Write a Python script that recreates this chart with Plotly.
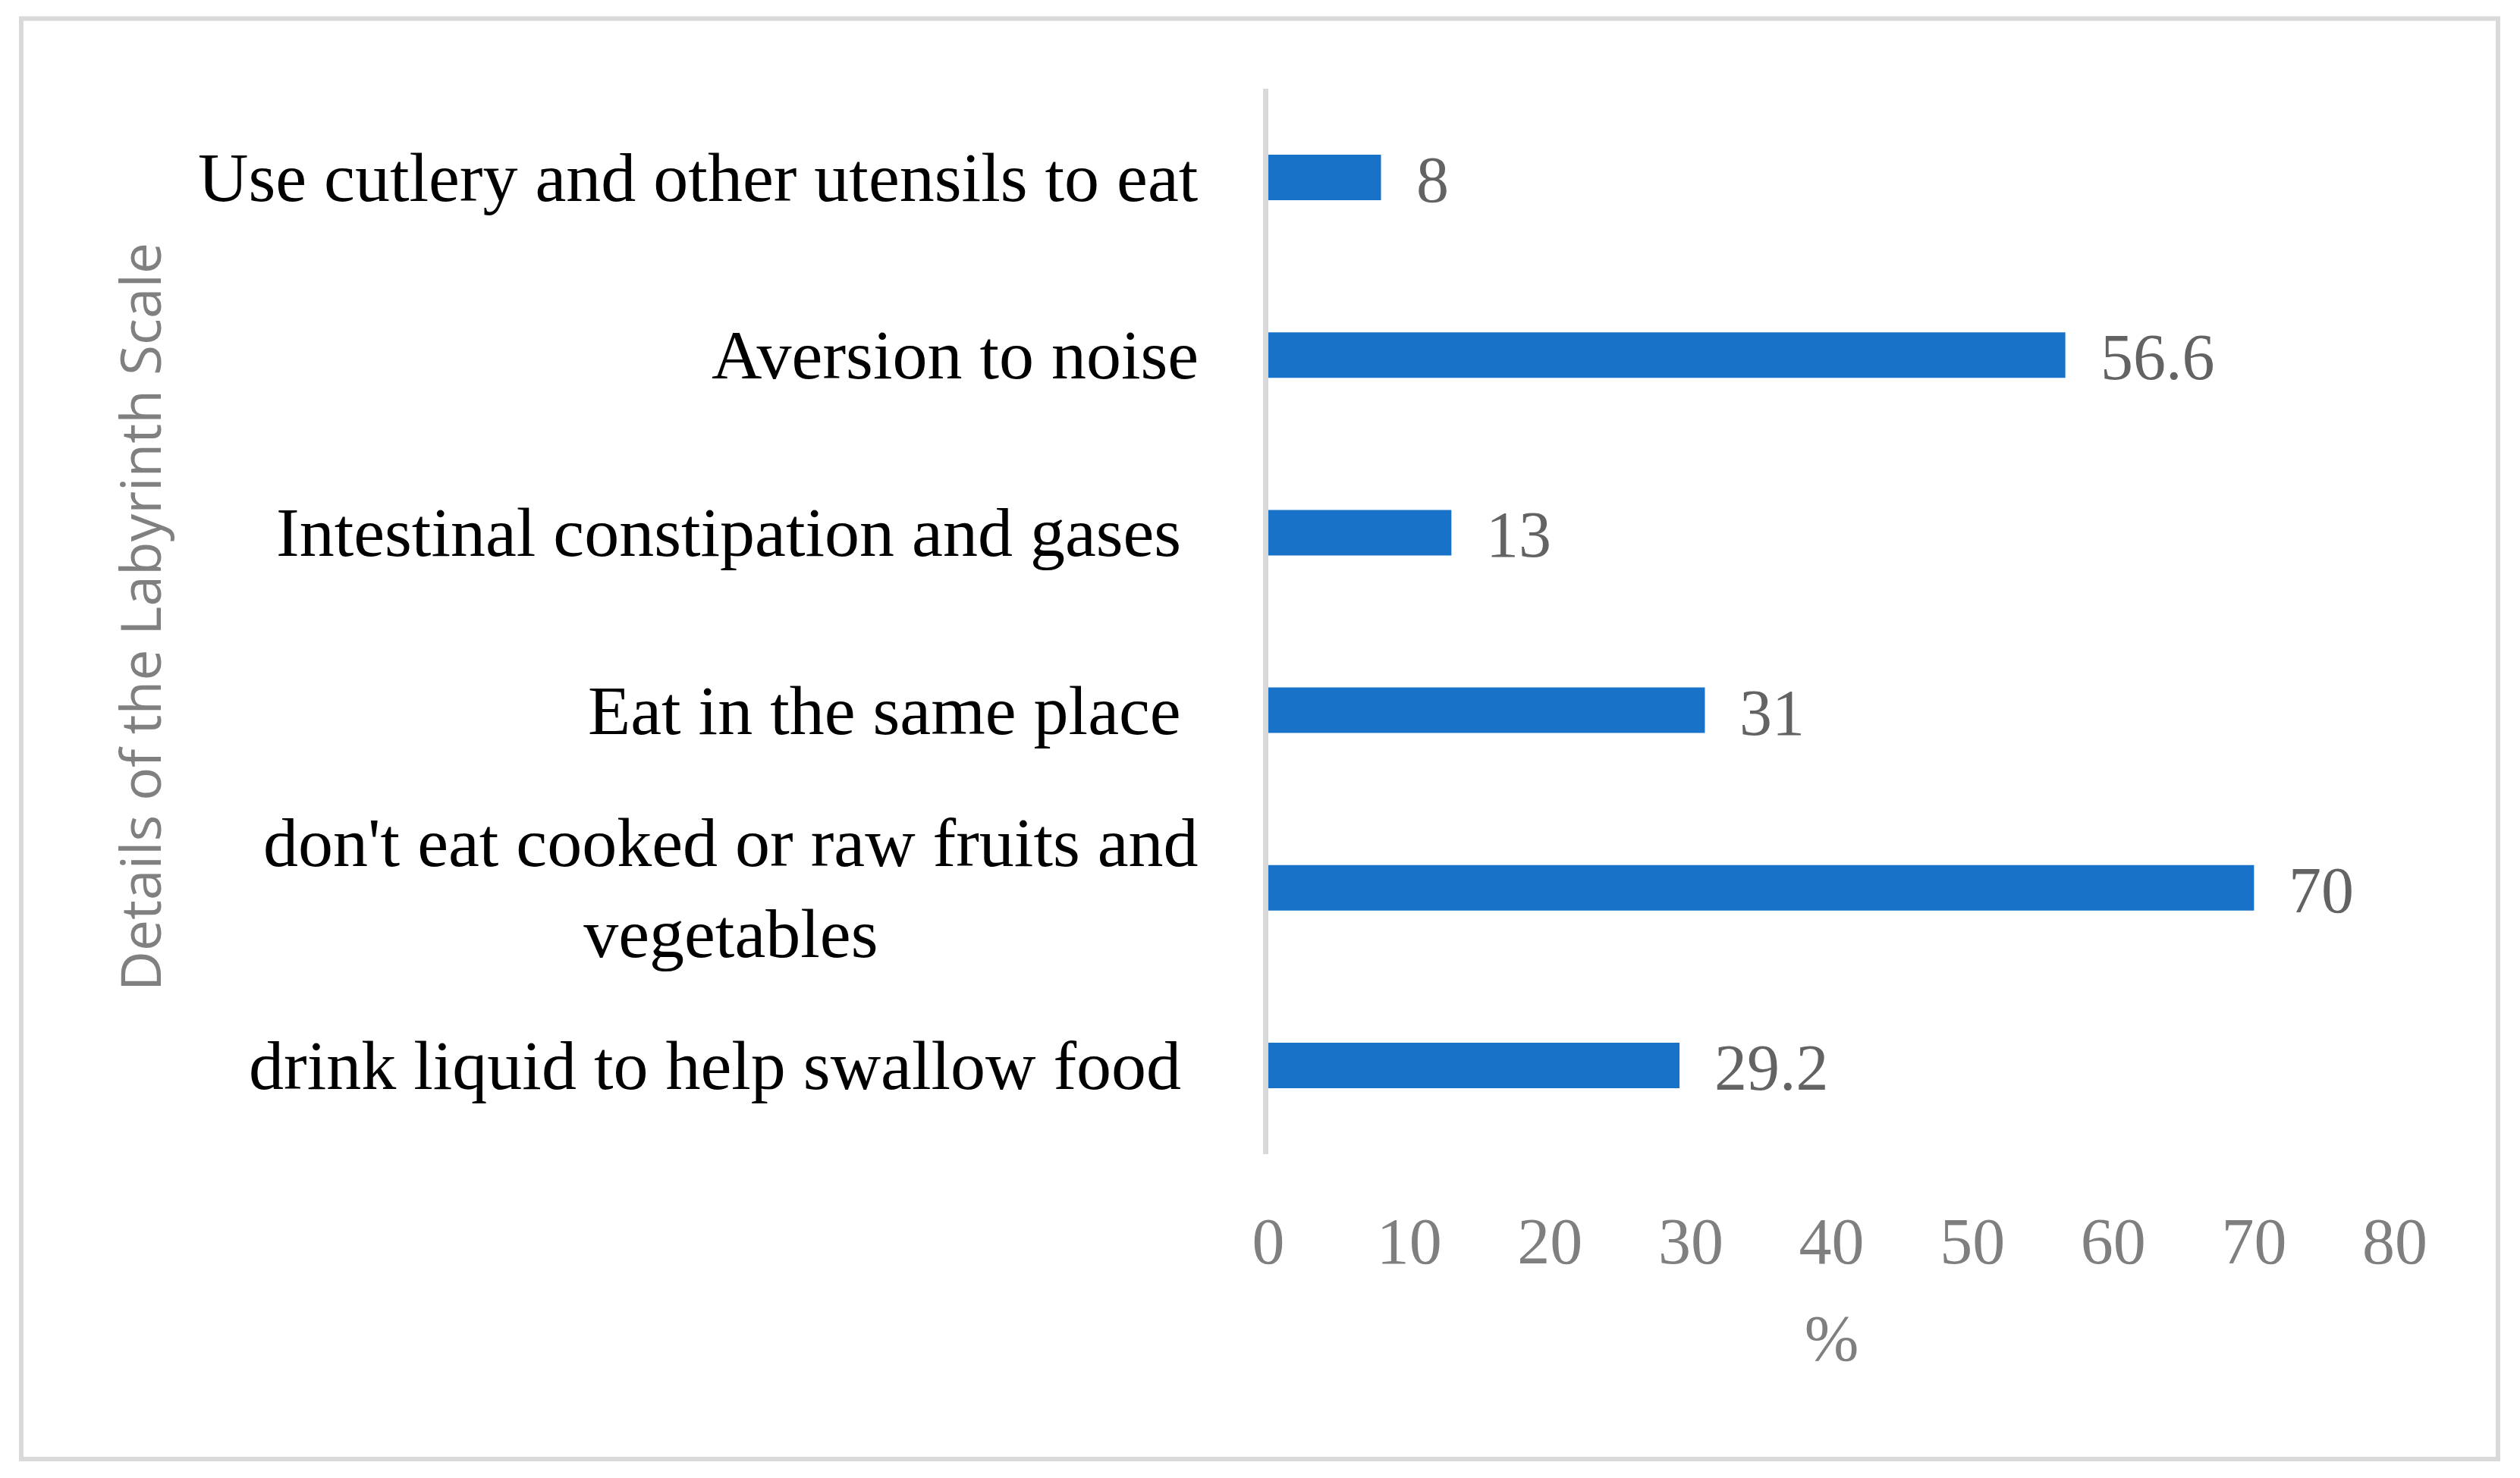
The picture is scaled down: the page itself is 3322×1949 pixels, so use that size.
import plotly.graph_objects as go

categories = [
    "Use cutlery and other utensils to eat",
    "Aversion to noise",
    "Intestinal constipation and gases ",
    "Eat in the same place ",
    "don't eat cooked or raw fruits and<br>vegetables",
    "drink liquid to help swallow food ",
]
values = [8, 56.6, 13, 31, 70, 29.2]
value_labels = ["8", "56.6", "13", "31", "70", "29.2"]
x_ticks = [0, 10, 20, 30, 40, 50, 60, 70, 80]
x_title = "%"
y_title = "Details of the Labyrinth Scale"

# page has an 8px body margin; figure coordinates = page coordinates - 8
W, H = 3306, 1933
L, R, T, B = 1664, 157, 109, 419
pw = W - L - R
ph = H - T - B

SERIF = "Liberation Serif"
BAR_COLOR = "#1873C8"

fig = go.Figure()
fig.add_trace(go.Bar(
    x=values,
    y=list(range(len(categories))),
    orientation="h",
    width=0.256,
    marker=dict(color=BAR_COLOR, line=dict(width=0)),
    hoverinfo="skip",
))

annotations = []
for i, (cat, v, lab) in enumerate(zip(categories, values, value_labels)):
    txt = cat
    n_trail = len(txt) - len(txt.rstrip(" "))
    txt = txt.rstrip(" ") + "\u00a0" * n_trail
    annotations.append(dict(
        x=0, y=i, xref="x", yref="y", text=txt, showarrow=False,
        xanchor="right", yanchor="middle", align="center", xshift=-90,
        font=dict(family=SERIF, size=92, color="#000000"),
    ))
    annotations.append(dict(
        x=v, y=i, xref="x", yref="y", text=lab, showarrow=False,
        xanchor="left", yanchor="middle", xshift=44, yshift=-3,
        font=dict(family=SERIF, size=86, color="#636363"),
    ))

annotations.append(dict(
    x=(175 - L) / pw, y=(H - B - 806) / ph, xref="paper", yref="paper",
    text=y_title, showarrow=False, textangle=-90,
    xanchor="center", yanchor="middle",
    font=dict(family="Open Sans", size=73, color="#808080"),
))

fig.update_layout(
    width=W, height=H,
    margin=dict(l=L, r=R, t=T, b=B, pad=0),
    paper_bgcolor="white", plot_bgcolor="white",
    showlegend=False,
    annotations=annotations,
    shapes=[dict(
        type="rect", xref="paper", yref="paper",
        x0=(20 - L) / pw, x1=(3285 - L) / pw,
        y0=(H - B - 1916) / ph, y1=(H - B - 16.5) / ph,
        line=dict(color="#d9d9d9", width=6), fillcolor="rgba(0,0,0,0)",
        layer="below",
    )],
    xaxis=dict(
        range=[0, 80], tickvals=x_ticks, ticktext=[str(t) for t in x_ticks],
        showgrid=False, zeroline=False, showline=False, ticks="",
        ticklabelstandoff=57,
        tickfont=dict(family=SERIF, size=86, color="#7f7f7f"),
        title=dict(text=x_title, standoff=49,
                   font=dict(family=SERIF, size=86, color="#7f7f7f")),
    ),
    yaxis=dict(
        range=[len(categories) - 0.5, -0.5],
        showticklabels=False, showgrid=False, zeroline=False,
        showline=True, linecolor="#d9d9d9", linewidth=7, ticks="",
    ),
)

fig.write_html("out.html")
